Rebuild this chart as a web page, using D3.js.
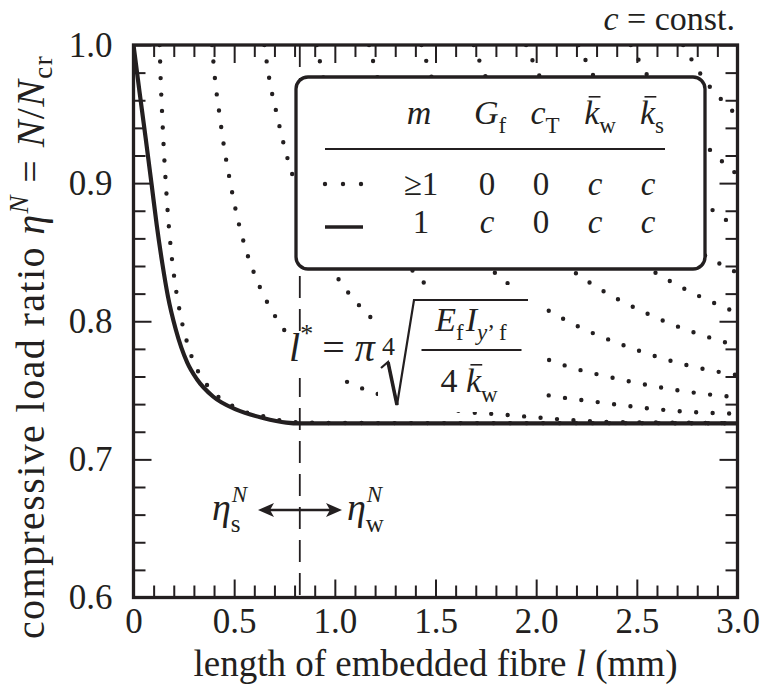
<!DOCTYPE html>
<html>
<head>
<meta charset="utf-8">
<script src="https://cdn.jsdelivr.net/npm/d3@7"></script>
<style>
  body { margin: 0; background: #fff; }
  text { white-space: pre; }
</style>
</head>
<body>
<script>
// ---- data ----
const xTicks = [0, 0.5, 1.0, 1.5, 2.0, 2.5, 3.0];
const xTickLabels = ["0", "0.5", "1.0", "1.5", "2.0", "2.5", "3.0"];
const yTicks = [0.6, 0.7, 0.8, 0.9, 1.0];
const yTickLabels = ["0.6", "0.7", "0.8", "0.9", "1.0"];
const lStar = 0.826;

// solid curve, m = 1, G_f = c
const solidL   = [0, 0.03, 0.06, 0.09, 0.115, 0.143, 0.171, 0.21, 0.267, 0.315, 0.395, 0.511, 0.643, 0.759, 0.826, 3.0];
const solidEta = [1.0, 0.966, 0.933, 0.899, 0.870, 0.842, 0.818, 0.794, 0.770, 0.758, 0.7455, 0.736, 0.730, 0.7266, 0.726, 0.726];

// dotted curves, G_f = 0, one per buckling mode [l, eta]
const dotM1 = [[0.130,1.0],[0.135,0.975],[0.142,0.951],[0.150,0.926],[0.160,0.901],[0.171,0.877],[0.186,0.852],[0.206,0.828],[0.234,0.804],[0.276,0.780],[0.306,0.768],[0.345,0.758],[0.400,0.748],[0.466,0.741],[0.540,0.735],[0.623,0.732],[0.706,0.729],[0.789,0.727],[0.872,0.7267],[0.958,0.7263],[3.0,0.7262]];
const dotM3 = [[0.39,1.0],[0.405,0.975],[0.426,0.951],[0.45,0.926],[0.48,0.901],[0.513,0.877],[0.558,0.852],[0.618,0.828],[0.702,0.804],[0.828,0.780],[0.918,0.768],[1.035,0.758],[1.20,0.748],[1.398,0.741],[1.62,0.735],[1.869,0.732],[2.118,0.729],[2.367,0.727],[2.616,0.7267],[2.874,0.7263],[3.0,0.7262]];
const dotM5 = [[0.65,1.0],[0.675,0.975],[0.71,0.951],[0.75,0.926],[0.80,0.901],[0.855,0.877],[0.93,0.852],[1.03,0.828],[1.17,0.804],[1.38,0.780],[1.53,0.768],[1.725,0.758],[2.0,0.748],[2.33,0.741],[2.70,0.735],[3.0,0.733]];
const dotM7 = [[0.91,1.0],[0.945,0.975],[0.994,0.951],[1.05,0.926],[1.12,0.901],[1.197,0.877],[1.302,0.852],[1.442,0.828],[1.638,0.804],[1.932,0.780],[2.142,0.768],[2.415,0.758],[2.80,0.748],[3.0,0.745]];
const dotM9 = [[1.17,1.0],[1.215,0.975],[1.278,0.951],[1.35,0.926],[1.44,0.901],[1.539,0.877],[1.674,0.852],[1.854,0.828],[2.106,0.804],[2.484,0.780],[2.754,0.768],[3.0,0.761]];
const dotM11 = [[1.43,1.0],[1.485,0.975],[1.562,0.951],[1.65,0.926],[1.76,0.901],[1.881,0.877],[2.046,0.852],[2.266,0.828],[2.574,0.804],[3.0,0.782]];
const dotM13 = [[1.69,1.0],[1.755,0.975],[1.846,0.951],[1.95,0.926],[2.08,0.901],[2.223,0.877],[2.418,0.852],[2.678,0.828],[3.0,0.806]];
const dotM15 = [[1.95,1.0],[2.025,0.975],[2.13,0.951],[2.25,0.926],[2.40,0.901],[2.565,0.877],[2.79,0.852],[3.0,0.835]];
const dotM17 = [[2.21,1.0],[2.295,0.975],[2.414,0.951],[2.55,0.926],[2.72,0.901],[2.907,0.877],[3.0,0.868]];
const dotM19 = [[2.47,1.0],[2.565,0.975],[2.698,0.951],[2.85,0.926],[3.0,0.906]];
const dotM21 = [[2.73,1.0],[2.835,0.975],[2.982,0.951],[3.0,0.948]];

// legend table
const legendCols = ["m", "G", "c", "k", "k"];
const legendRowDotted = ["\u22651", "0", "0", "c", "c"];
const legendRowSolid  = ["1", "c", "0", "c", "c"];

// ---- layout ----
const W = 761, H = 686;
const x = d3.scaleLinear().domain([0, 3]).range([133.5, 737.5]);
const y = d3.scaleLinear().domain([0.6, 1.0]).range([597.5, 45]);
const ink = "#231f20";
const serif = '"Liberation Serif", "DejaVu Serif", "Times New Roman", serif';

const svg = d3.select("body").append("svg").attr("width", W).attr("height", H);

svg.append("clipPath").attr("id", "plot").append("rect")
  .attr("x", x(0)).attr("y", y(1)).attr("width", x(3) - x(0)).attr("height", y(0.6) - y(1));

// helper: row of text pieces, returns group
function rich(parent, x0, yb, pieces, anchor, spacing) {
  const g = parent.append("g");
  let cx = 0;
  pieces.forEach(p => {
    const t = g.append("text").attr("x", cx + (p.dx || 0)).attr("y", p.dy || 0)
      .attr("xml:space", "preserve")
      .style("font-family", serif).style("fill", ink)
      .style("font-size", p.fs + "px")
      .style("font-style", p.it ? "italic" : "normal")
      .style("letter-spacing", (spacing || 0) + "px")
      .text(p.t);
    const w = t.node().getComputedTextLength();
    if (p.bar) {
      g.append("line").attr("x1", cx + w * 0.3).attr("x2", cx + w * 0.95 + 2)
        .attr("y1", (p.dy || 0) - p.fs * 0.8).attr("y2", (p.dy || 0) - p.fs * 0.8)
        .attr("stroke", ink).attr("stroke-width", 1.6);
    }
    if (!p.noAdvance) cx += w + (p.dx || 0);
  });
  const off = anchor === "middle" ? -cx / 2 : anchor === "end" ? -cx : 0;
  g.attr("transform", `translate(${x0 + off},${yb})`);
  return g;
}

// ---- curves ----
const curves = svg.append("g").attr("clip-path", "url(#plot)");
const line = d3.line().x(d => x(d[0])).y(d => y(d[1])).curve(d3.curveMonotoneX);

[dotM1, dotM3, dotM5, dotM7, dotM9, dotM11, dotM13, dotM15, dotM17, dotM19, dotM21].forEach(c => {
  curves.append("path").attr("d", line(c))
    .attr("fill", "none").attr("stroke", ink).attr("stroke-width", 4.4)
    .attr("stroke-linecap", "round").attr("stroke-dasharray", "0 16.5");
});

// l* marker
svg.append("line").attr("x1", x(lStar)).attr("x2", x(lStar)).attr("y1", y(1)).attr("y2", y(0.6))
  .attr("stroke", ink).attr("stroke-width", 1.8).attr("stroke-dasharray", "22 11");

curves.append("path").attr("d", line(solidL.map((l, i) => [l, solidEta[i]])))
  .attr("fill", "none").attr("stroke", ink).attr("stroke-width", 4.2);

// ---- axes ----
const xMinor = d3.range(1, 30).map(i => i / 10).filter(v => Math.abs(v * 2 - Math.round(v * 2)) > 1e-6);
const yMinor = d3.range(31, 50).map(i => i / 50).filter(v => Math.abs(v * 10 - Math.round(v * 10)) > 1e-6);

function ax(axis, tr) {
  const g = svg.append("g").attr("transform", tr).call(axis);
  g.attr("font-family", null).attr("font-size", null);
  g.select(".domain").remove();
  g.selectAll(".tick line").attr("stroke", ink).attr("stroke-width", 2);
  g.selectAll(".tick text").style("font-size", "35px").style("fill", ink)
    .style("font-family", serif);
  return g;
}
const trBottom = `translate(0,${y(0.6)})`, trTop = `translate(0,${y(1)})`;
const trLeft = `translate(${x(0)},0)`, trRight = `translate(${x(3)},0)`;

ax(d3.axisBottom(x).tickValues(xTicks).tickSize(-18).tickPadding(11).tickFormat((d, i) => xTickLabels[i]), trBottom);
ax(d3.axisBottom(x).tickValues(xMinor).tickSize(-12).tickFormat(""), trBottom);
ax(d3.axisTop(x).tickValues(xTicks).tickSize(-18).tickFormat(""), trTop);
ax(d3.axisTop(x).tickValues(xMinor).tickSize(-12).tickFormat(""), trTop);
ax(d3.axisLeft(y).tickValues(yTicks).tickSize(-18).tickPadding(21).tickFormat((d, i) => yTickLabels[i]), trLeft);
ax(d3.axisLeft(y).tickValues(yMinor).tickSize(-12).tickFormat(""), trLeft);
ax(d3.axisRight(y).tickValues(yTicks).tickSize(-18).tickFormat(""), trRight);
ax(d3.axisRight(y).tickValues(yMinor).tickSize(-12).tickFormat(""), trRight);

svg.append("rect").attr("x", x(0)).attr("y", y(1)).attr("width", x(3) - x(0)).attr("height", y(0.6) - y(1))
  .attr("fill", "none").attr("stroke", ink).attr("stroke-width", 3.3);

// ---- axis titles ----
rich(svg, (x(0) + x(3)) / 2, 676, [
  { t: "length of embedded fibre ", fs: 37 },
  { t: "l", fs: 37, it: true },
  { t: " (mm)", fs: 37 }
], "middle");

const yt = svg.append("g").attr("transform", `translate(44,347) rotate(-90)`);
rich(yt, 0, 0, [
  { t: "compressive load ratio ", fs: 40 },
  { t: "\u03b7", fs: 40, it: true },
  { t: "N", fs: 27, it: true, dy: -16 },
  { t: " = ", fs: 40 },
  { t: "N", fs: 40, it: true },
  { t: "/", fs: 40 },
  { t: "N", fs: 40, it: true },
  { t: "cr", fs: 27, dy: 8 }
], "middle", 1.4);

rich(svg, 735, 30, [
  { t: "c", fs: 34, it: true },
  { t: " = const.", fs: 34 }
], "end");

// ---- legend ----
svg.append("rect").attr("x", 296).attr("y", 77).attr("width", 409).attr("height", 192).attr("rx", 12)
  .attr("fill", "#fff").attr("stroke", ink).attr("stroke-width", 3.3);

const colX = [419, 490, 545, 600, 652];
const hb = 124;
rich(svg, colX[0], hb, [{ t: legendCols[0], fs: 34, it: true }], "middle");
rich(svg, colX[1], hb, [{ t: legendCols[1], fs: 34, it: true }, { t: "f", fs: 23, dy: 9 }], "middle");
rich(svg, colX[2], hb, [{ t: legendCols[2], fs: 34, it: true }, { t: "T", fs: 23, dy: 9 }], "middle");
rich(svg, colX[3], hb, [{ t: legendCols[3], fs: 34, it: true, bar: true }, { t: "w", fs: 23, dy: 9 }], "middle");
rich(svg, colX[4], hb, [{ t: legendCols[4], fs: 34, it: true, bar: true }, { t: "s", fs: 23, dy: 9 }], "middle");

svg.append("line").attr("x1", 325).attr("x2", 665).attr("y1", 149).attr("y2", 149)
  .attr("stroke", ink).attr("stroke-width", 2);

const valX = [421, 487, 541, 595, 648];
legendRowDotted.forEach((v, i) => rich(svg, valX[i], 195, [{ t: v, fs: 33, it: v === "c" }], "middle"));
legendRowSolid.forEach((v, i) => rich(svg, valX[i], 233, [{ t: v, fs: 33, it: v === "c" }], "middle"));

svg.append("path").attr("d", "M325,184H364").attr("stroke", ink).attr("stroke-width", 4.4)
  .attr("stroke-linecap", "round").attr("stroke-dasharray", "0 18");
svg.append("line").attr("x1", 325).attr("x2", 363).attr("y1", 227).attr("y2", 227)
  .attr("stroke", ink).attr("stroke-width", 3.6);

// ---- l* formula ----
svg.append("rect").attr("x", 286).attr("y", 334).attr("width", 92).attr("height", 44).attr("fill", "#fff");
svg.append("rect").attr("x", 378).attr("y", 285).attr("width", 162).attr("height", 127).attr("fill", "#fff");

rich(svg, 289, 361, [
  { t: "l", fs: 40, it: true },
  { t: "*", fs: 26, dy: -19 },
  { t: " = ", fs: 40, dx: -1 },
  { t: "\u03c0", fs: 40, it: true }
]);
rich(svg, 382, 355, [{ t: "4", fs: 26 }]);
svg.append("path").attr("d", "M381,368 L388,362 L397,405 L414,300 L528,300")
  .attr("fill", "none").attr("stroke", ink).attr("stroke-width", 2.2).attr("stroke-linejoin", "miter");
svg.append("path").attr("d", "M388,362 L397,405").attr("stroke", ink).attr("stroke-width", 3.6);

rich(svg, 471, 331, [
  { t: "E", fs: 34, it: true },
  { t: "f", fs: 23, dy: 9 },
  { t: "I", fs: 34, it: true, dx: 2 },
  { t: "y", fs: 23, it: true, dy: 9 },
  { t: "\u2019 f", fs: 23, dy: 9 }
], "middle");
svg.append("line").attr("x1", 421.5).attr("x2", 521.5).attr("y1", 350).attr("y2", 350)
  .attr("stroke", ink).attr("stroke-width", 2);
rich(svg, 469, 392, [
  { t: "4 ", fs: 34 },
  { t: "k", fs: 34, it: true, bar: true },
  { t: "w", fs: 23, dy: 10 }
], "middle");

// ---- eta_s <-> eta_w ----
rich(svg, 212, 520, [
  { t: "\u03b7", fs: 38, it: true },
  { t: "N", fs: 23, it: true, dy: -18, dx: 1, noAdvance: true },
  { t: "s", fs: 25, dy: 12 }
]);
rich(svg, 347, 520, [
  { t: "\u03b7", fs: 38, it: true },
  { t: "N", fs: 23, it: true, dy: -18, dx: 1, noAdvance: true },
  { t: "w", fs: 25, dy: 12 }
]);
svg.append("line").attr("x1", 268).attr("x2", 332).attr("y1", 510).attr("y2", 510)
  .attr("stroke", ink).attr("stroke-width", 2.6);
svg.append("path").attr("d", "M258,510 L274,503 L270,510 L274,517 Z").attr("fill", ink);
svg.append("path").attr("d", "M342,510 L326,503 L330,510 L326,517 Z").attr("fill", ink);
</script>
</body>
</html>
